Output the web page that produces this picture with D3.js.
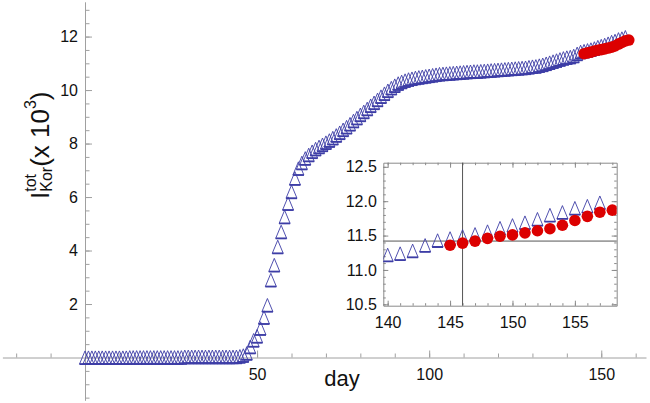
<!DOCTYPE html>
<html>
<head>
<meta charset="utf-8">
<script src="https://cdn.jsdelivr.net/npm/d3@7"></script>
<style>
  body { margin: 0; background: #fff; }
  svg { display: block; font-family: "Liberation Sans", Arial, sans-serif; }
</style>
</head>
<body>
<svg id="svg"></svg>
<script>
// cumulative confirmed cases (x 10^3), one value per day starting at firstDay
const firstDay = 0;
const totalCases = [
  0.00, 0.00, 0.00, 0.00, 0.00, 0.00, 0.00, 0.00, 0.00, 0.00, 0.00, 0.00, 0.00,
  0.01, 0.01, 0.01, 0.01, 0.01, 0.01, 0.01, 0.01, 0.01, 0.01, 0.01, 0.01, 0.01, 0.01, 0.01, 0.01,
  0.03, 0.03, 0.03, 0.03, 0.03, 0.03, 0.03, 0.03, 0.03, 0.03, 0.03, 0.03, 0.03, 0.03, 0.03, 0.03,
  0.05, 0.08, 0.16, 0.40, 0.65, 0.80, 1.09, 1.50, 1.96, 2.90, 3.46,
  4.14, 4.70, 5.26, 5.76, 6.20, 6.70, 7.07, 7.28, 7.45, 7.58,
  7.70, 7.80, 7.88, 7.96, 8.04, 8.12, 8.21, 8.31, 8.41, 8.52,
  8.62, 8.73, 8.85, 8.96, 9.08, 9.19, 9.30, 9.42, 9.53, 9.64,
  9.76, 9.87, 9.98, 10.08, 10.17, 10.25, 10.31, 10.36, 10.40, 10.43,
  10.46, 10.48, 10.50, 10.52, 10.54, 10.56, 10.58, 10.60, 10.61, 10.62,
  10.63, 10.64, 10.65, 10.66, 10.67, 10.68, 10.69, 10.70, 10.70, 10.71,
  10.72, 10.73, 10.74, 10.75, 10.76, 10.77, 10.78, 10.79, 10.80, 10.81,
  10.82, 10.83, 10.84, 10.86, 10.88, 10.89, 10.92, 10.95, 10.99, 11.03,
  11.07, 11.11, 11.15, 11.19, 11.22, 11.24, 11.28, 11.36, 11.43, 11.46,
  11.49, 11.52, 11.56, 11.61, 11.65, 11.69, 11.74, 11.80, 11.84, 11.90,
  11.93, 11.98
];

// model prediction (red dots)
const fitFirstDay = 145;
const fitCases = [11.36, 11.39, 11.42, 11.46, 11.49, 11.51, 11.54, 11.57, 11.60, 11.65, 11.72, 11.78, 11.84, 11.87];

const mainXTicks = [50, 100, 150];
const mainYTicks = [2, 4, 6, 8, 10, 12];
const insetXTicks = [140, 145, 150, 155];
const insetYTicks = [10.5, 11.0, 11.5, 12.0, 12.5];
const insetMarkDay = 146;
const insetMarkValue = 11.42;

const width = 650, height = 403;
const blue = '#3d3da6', red = '#dc0000';

const cases = totalCases.map((v, i) => ({ day: firstDay + i, value: v }));
const fit = fitCases.map((v, i) => ({ day: fitFirstDay + i, value: v }));

const svg = d3.select('#svg').attr('width', width).attr('height', height);

// ---- main axes ----
const x = d3.scaleLinear().domain([-24, 163]).range([2.4, 646]);
const y = d3.scaleLinear().domain([-1.6, 13.3]).range([400.3, 1.8]);

const axisColor = '#a0a0a0';

function styleAxis(g) {
  g.selectAll('line').attr('stroke', axisColor);
  g.selectAll('path').attr('stroke', axisColor);
  g.selectAll('text').attr('fill', '#111').attr('font-size', 16);
}

svg.append('g')
  .attr('transform', `translate(0,${y(0)})`)
  .call(d3.axisBottom(x).tickValues(d3.range(-20, 161, 10)).tickFormat('').tickSizeInner(-4).tickSizeOuter(0))
  .call(styleAxis);
svg.append('g')
  .attr('transform', `translate(0,${y(0)})`)
  .call(d3.axisBottom(x).tickValues(mainXTicks).tickSizeInner(-7).tickSizeOuter(0).tickPadding(11))
  .call(g => g.select('.domain').remove())
  .call(styleAxis);

svg.append('g')
  .attr('transform', `translate(${x(0)},0)`)
  .call(d3.axisLeft(y).tickValues(d3.range(-1.5, 13.1, 0.5)).tickFormat('').tickSizeInner(-4.5).tickSizeOuter(0))
  .call(styleAxis);
svg.append('g')
  .attr('transform', `translate(${x(0)},0)`)
  .call(d3.axisLeft(y).tickValues(mainYTicks).tickSizeInner(-7).tickSizeOuter(0).tickPadding(7))
  .call(g => g.select('.domain').remove())
  .call(styleAxis);

// axis labels
svg.append('text')
  .attr('x', 342).attr('y', 386)
  .attr('text-anchor', 'middle')
  .attr('font-size', 22)
  .attr('fill', '#111')
  .text('day');

const ylab = svg.append('g').attr('transform', 'translate(49,199) rotate(-90)').attr('fill', '#111');
let pos = 0;
function piece(str, size, shift) {
  const t = ylab.append('text').attr('x', pos).attr('y', shift).attr('font-size', size).text(str);
  return t.node().getComputedTextLength();
}
pos += piece('I', 26, 0);
const wTot = piece('tot', 16, -13);
const wKor = piece('Kor', 16, 3);
pos += Math.max(wTot, wKor);
pos += piece('(x 10', 26, 0);
pos += piece('3', 16, -13);
piece(')', 26, 0);

// ---- markers ----
const triW = 5.5, triH = 6.6;
function drawTriangles(sel, xs, ys, data) {
  const g = sel.selectAll('g.tri')
    .data(data)
    .join('g')
      .attr('class', 'tri')
      .attr('transform', d => `translate(${xs(d.day)},${ys(d.value)})`);
  g.append('path')
    .attr('d', `M0,${-triH}L${triW},${triH}L${-triW},${triH}Z`)
    .attr('fill', 'none')
    .attr('stroke', blue)
    .attr('stroke-width', 0.9);
  g.append('path')
    .attr('d', `M${-triW},${triH}H${triW}`)
    .attr('stroke', blue)
    .attr('stroke-width', 1.8);
}
function drawDots(sel, xs, ys, data) {
  sel.selectAll('circle')
    .data(data)
    .join('circle')
      .attr('cx', d => xs(d.day))
      .attr('cy', d => ys(d.value))
      .attr('r', 5.8)
      .attr('fill', red);
}

drawTriangles(svg.append('g'), x, y, cases);
drawDots(svg.append('g'), x, y, fit);

// ---- inset ----
const ix = d3.scaleLinear().domain([139.65, 158.35]).range([383.3, 616.7]);
const iy = d3.scaleLinear().domain([10.48, 12.56]).range([305.7, 162.7]);
const [ix0, ix1] = ix.range();
const [iy0, iy1] = iy.range();

const inset = svg.append('g');
inset.append('rect')
  .attr('x', ix0).attr('y', iy1)
  .attr('width', ix1 - ix0).attr('height', iy0 - iy1)
  .attr('fill', '#fff');

svg.append('clipPath').attr('id', 'insetClip')
  .append('rect')
  .attr('x', ix0).attr('y', iy1)
  .attr('width', ix1 - ix0).attr('height', iy0 - iy1);

const frameColor = '#8a8a8a';
function styleInset(g) {
  g.selectAll('line').attr('stroke', frameColor);
  g.selectAll('path').attr('stroke', frameColor);
  g.selectAll('text').attr('fill', '#111').attr('font-size', 16);
}
const minorDays = d3.range(140, 159, 1);
const minorVals = d3.range(10.5, 12.56, 0.1);

// bottom
inset.append('g').attr('transform', `translate(0,${iy0})`)
  .call(d3.axisBottom(ix).tickValues(minorDays).tickFormat('').tickSizeInner(-2.5).tickSizeOuter(0))
  .call(styleInset);
inset.append('g').attr('transform', `translate(0,${iy0})`)
  .call(d3.axisBottom(ix).tickValues(insetXTicks).tickSizeInner(-5).tickSizeOuter(0).tickPadding(11))
  .call(g => g.select('.domain').remove())
  .call(styleInset);
// top
inset.append('g').attr('transform', `translate(0,${iy1})`)
  .call(d3.axisTop(ix).tickValues(minorDays).tickFormat('').tickSizeInner(-2.5).tickSizeOuter(0))
  .call(styleInset);
inset.append('g').attr('transform', `translate(0,${iy1})`)
  .call(d3.axisTop(ix).tickValues(insetXTicks).tickFormat('').tickSizeInner(-5).tickSizeOuter(0))
  .call(g => g.select('.domain').remove())
  .call(styleInset);
// left
inset.append('g').attr('transform', `translate(${ix0},0)`)
  .call(d3.axisLeft(iy).tickValues(minorVals).tickFormat('').tickSizeInner(-2.5).tickSizeOuter(0))
  .call(styleInset);
inset.append('g').attr('transform', `translate(${ix0},0)`)
  .call(d3.axisLeft(iy).tickValues(insetYTicks).tickFormat(d3.format('.1f')).tickSizeInner(-5).tickSizeOuter(0).tickPadding(6.5))
  .call(g => g.select('.domain').remove())
  .call(styleInset);
// right
inset.append('g').attr('transform', `translate(${ix1},0)`)
  .call(d3.axisRight(iy).tickValues(minorVals).tickFormat('').tickSizeInner(-2.5).tickSizeOuter(0))
  .call(styleInset);
inset.append('g').attr('transform', `translate(${ix1},0)`)
  .call(d3.axisRight(iy).tickValues(insetYTicks).tickFormat('').tickSizeInner(-5).tickSizeOuter(0))
  .call(g => g.select('.domain').remove())
  .call(styleInset);

// crosshair
inset.append('line')
  .attr('x1', ix(insetMarkDay)).attr('x2', ix(insetMarkDay))
  .attr('y1', iy1).attr('y2', iy0)
  .attr('stroke', '#555').attr('stroke-width', 1);
inset.append('line')
  .attr('x1', ix0).attr('x2', ix1)
  .attr('y1', iy(insetMarkValue)).attr('y2', iy(insetMarkValue))
  .attr('stroke', '#555').attr('stroke-width', 1);

const insetData = inset.append('g').attr('clip-path', 'url(#insetClip)');
drawTriangles(insetData.append('g'), ix, iy, cases.filter(d => d.day >= 140));
drawDots(insetData.append('g'), ix, iy, fit);
</script>
</body>
</html>
